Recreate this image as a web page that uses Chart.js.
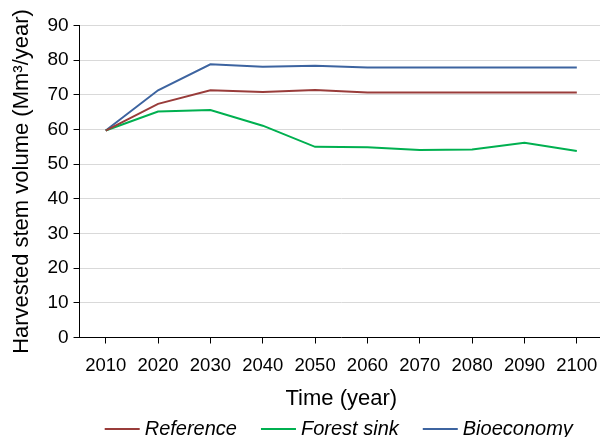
<!DOCTYPE html>
<html>
<head>
<meta charset="utf-8">
<script src="https://cdn.jsdelivr.net/npm/chart.js@4/dist/chart.umd.min.js"></script>
<style>
  html, body { margin: 0; padding: 0; background: #fff; overflow: hidden; }
  /* the plot runs a few pixels past the right edge of the frame */
  #wrap { width: 600px; height: 437px; overflow: hidden; }
  #c { display: block; }
</style>
</head>
<body>
<div id="wrap"><canvas id="c" width="603" height="437"></canvas></div>
<script>
// Harvested stem volume per scenario, 2010–2100
const years = ['2010', '2020', '2030', '2040', '2050', '2060', '2070', '2080', '2090', '2100'];
const reference = [59.7, 67.4, 71.3, 70.8, 71.4, 70.7, 70.7, 70.7, 70.7, 70.7];
const forestSink = [59.7, 65.2, 65.6, 61.1, 55.0, 54.9, 54.1, 54.2, 56.2, 53.8];
const bioeconomy = [59.7, 71.3, 78.8, 78.1, 78.4, 77.9, 77.9, 77.9, 77.9, 77.9];
const seriesNames = ['Reference', 'Forest sink', 'Bioeconomy'];

const FONT = '"Liberation Sans", Arial, sans-serif';

function line(label, data, color) {
  return {
    label, data,
    borderColor: color, backgroundColor: color,
    borderWidth: 2, pointRadius: 0, tension: 0, fill: false
  };
}

// Bottom legend: short line sample, then the italic series name right next to it
const lineLegend = {
  id: 'lineLegend',
  afterDraw(chart, args, opts) {
    const ctx = chart.ctx;
    const sample = 35, gap = 5, spacing = 24;
    ctx.save();
    ctx.font = 'italic 20px ' + FONT;
    ctx.textBaseline = 'middle';
    const items = chart.data.datasets.map(ds => ({
      label: ds.label, color: ds.borderColor, w: ctx.measureText(ds.label).width
    }));
    const total = items.reduce((s, it) => s + sample + gap + it.w, 0) + spacing * (items.length - 1);
    const area = chart.chartArea;
    let x = (area.left + area.right) / 2 + opts.shift - total / 2;
    const y = chart.height - opts.bottom;
    items.forEach(it => {
      ctx.strokeStyle = it.color;
      ctx.lineWidth = 2;
      ctx.beginPath();
      ctx.moveTo(x, y);
      ctx.lineTo(x + sample, y);
      ctx.stroke();
      x += sample + gap;
      ctx.fillStyle = '#000';
      ctx.fillText(it.label, x, y);
      x += it.w + spacing;
    });
    ctx.restore();
  }
};

new Chart(document.getElementById('c'), {
  type: 'line',
  data: {
    labels: years,
    datasets: [
      line(seriesNames[0], reference, '#993c3a'),
      line(seriesNames[1], forestSink, '#00b050'),
      line(seriesNames[2], bioeconomy, '#3d64a0')
    ]
  },
  plugins: [lineLegend],
  options: {
    responsive: false,
    animation: false,
    devicePixelRatio: 1,
    layout: { padding: { left: 0, right: 0, top: 25.5, bottom: 27.5 } },
    plugins: {
      tooltip: { enabled: false },
      legend: { display: false },
      lineLegend: { bottom: 8, shift: -2.5 }
    },
    scales: {
      x: {
        offset: true,
        grid: {
          offset: false,
          drawOnChartArea: false,
          drawTicks: true,
          tickLength: 6,
          tickColor: '#000'
        },
        border: { display: true, color: '#000', width: 1 },
        // tall label line box keeps the year labels well below the tick marks
        ticks: { color: '#000', padding: 0, maxRotation: 0, autoSkip: false, font: { family: FONT, size: 18.5, lineHeight: '44px' } },
        title: { display: true, text: 'Time (year)', color: '#000', padding: { top: 0, bottom: 0 }, font: { family: FONT, size: 22, lineHeight: 1 } }
      },
      y: {
        min: 0, max: 90,
        grid: { color: '#d9d9d9', lineWidth: 1, tickLength: 6, tickColor: '#000' },
        border: { display: true, color: '#000', width: 1 },
        ticks: { stepSize: 10, color: '#000', padding: 5, font: { family: FONT, size: 19 } },
        title: { display: true, text: 'Harvested stem volume (Mm³/year)', color: '#000', padding: { top: 9, bottom: 7 }, font: { family: FONT, size: 22 } }
      }
    }
  }
});
</script>
</body>
</html>
